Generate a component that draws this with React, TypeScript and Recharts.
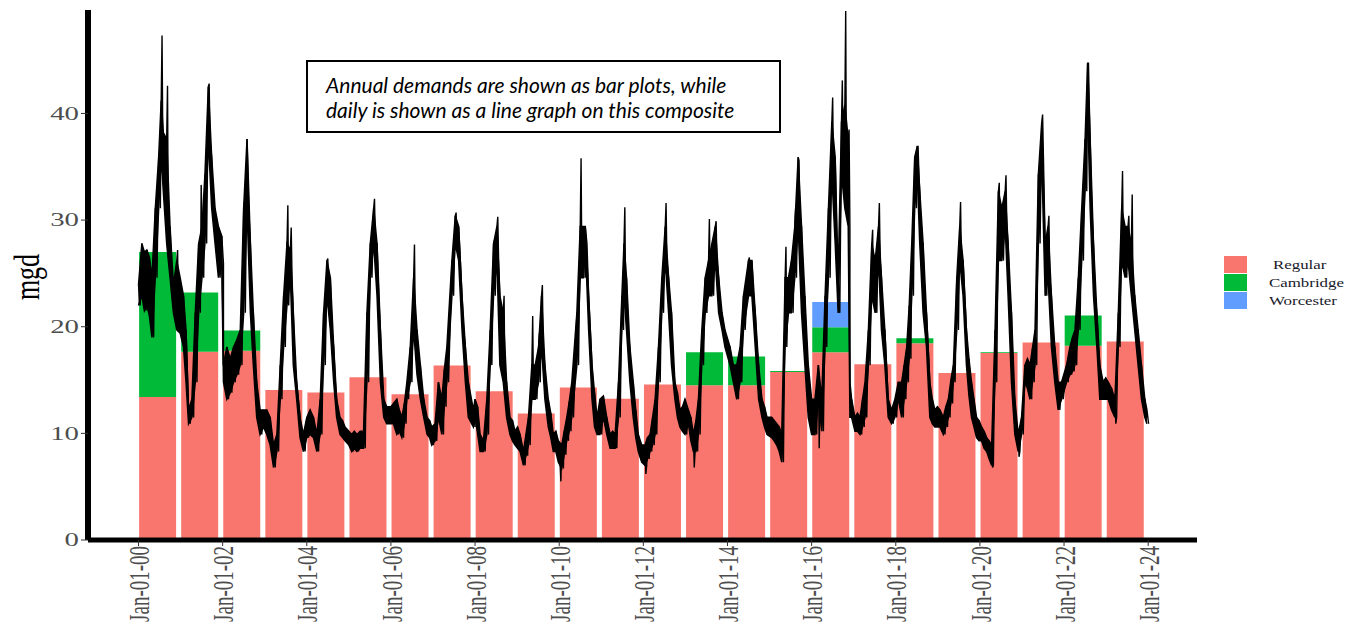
import React from 'react';
import { ComposedChart, Bar, Line, Area, XAxis, YAxis } from 'recharts';

// ---------- annual demand (mgd) ----------
const years = [2000, 2001, 2002, 2003, 2004, 2005, 2006, 2007, 2008, 2009, 2010, 2011, 2012, 2013, 2014, 2015, 2016, 2017, 2018, 2019, 2020, 2021, 2022, 2023];
const regular = [13.4, 17.65, 17.75, 14.06, 13.84, 15.25, 13.66, 16.37, 13.94, 11.87, 14.31, 13.25, 14.59, 14.5, 14.5, 15.75, 17.6, 16.47, 18.44, 15.66, 17.53, 18.53, 18.22, 18.62];
const cambridge = [13.6, 5.57, 1.9, 0, 0, 0, 0, 0, 0, 0, 0, 0, 0, 3.1, 2.7, 0.1, 2.34, 0, 0.47, 0, 0.08, 0, 2.84, 0];
const worcester = [0, 0, 0, 0, 0, 0, 0, 0, 0, 0, 0, 0, 0, 0, 0, 0, 2.37, 0, 0, 0, 0, 0, 0, 0];

const seriesNames = ['Regular', 'Cambridge', 'Worcester'];
const seriesColors = ['#F8766D', '#00BA38', '#619CFF'];

const xTicks = [2000, 2002, 2004, 2006, 2008, 2010, 2012, 2014, 2016, 2018, 2020, 2022, 2024];
const yTicks = [0, 10, 20, 30, 40];

// ---------- daily demand: [decimal year, band top, band bottom] ----------
const dailyReadings: [number, number, number][] = [
  [2000.00, 23.9, 22.0], [2000.08, 27.8, 22.9], [2000.14, 27.0, 21.5], [2000.20, 27.2, 22.0], [2000.26, 26.5, 21.0],
  [2000.32, 24.6, 19.0], [2000.40, 31.1, 24.6], [2000.48, 35.9, 31.1], [2000.54, 41.2, 35.9], [2000.59, 38.2, 32.7],
  [2000.67, 37.6, 27.8], [2000.75, 29.4, 24.6], [2000.83, 23.9, 21.3], [2000.91, 26.2, 19.7], [2000.99, 24.6, 19.4],
  [2001.07, 22.9, 18.1], [2001.13, 19.7, 14.8], [2001.19, 12.2, 10.9], [2001.27, 13.2, 11.5], [2001.35, 21.3, 14.8],
  [2001.43, 27.8, 21.3], [2001.51, 29.4, 24.6], [2001.58, 34.3, 27.8], [2001.66, 42.5, 37.6], [2001.74, 35.9, 31.1],
  [2001.82, 31.1, 27.8], [2001.90, 29.4, 24.6], [2001.98, 28.5, 25.9],
  [2002.02, 16.4, 14.8], [2002.10, 18.1, 13.2], [2002.18, 17.0, 13.8], [2002.26, 18.1, 14.8], [2002.34, 18.8, 15.5],
  [2002.42, 19.7, 16.4], [2002.50, 31.1, 21.3], [2002.58, 37.6, 31.1], [2002.66, 27.8, 21.3], [2002.73, 21.3, 16.4],
  [2002.81, 14.8, 11.5], [2002.89, 12.2, 9.9], [2002.97, 12.2, 10.6],
  [2003.05, 12.2, 9.9], [2003.13, 11.5, 8.9], [2003.21, 8.9, 6.8], [2003.29, 9.9, 8.3], [2003.37, 16.4, 13.2],
  [2003.45, 22.9, 18.1], [2003.53, 27.8, 22.0], [2003.61, 27.2, 24.6], [2003.68, 21.3, 16.4], [2003.76, 14.8, 13.2],
  [2003.84, 11.5, 9.6], [2003.92, 9.9, 8.3],
  [2004.00, 11.5, 9.6], [2004.08, 12.2, 9.9], [2004.16, 11.5, 9.6], [2004.24, 9.9, 8.3], [2004.32, 13.2, 9.9],
  [2004.40, 21.3, 16.4], [2004.48, 26.2, 22.9], [2004.56, 24.6, 19.7], [2004.64, 18.1, 14.8], [2004.71, 13.2, 11.5],
  [2004.79, 11.5, 9.9], [2004.85, 11.2, 9.6], [2004.91, 10.6, 9.3],
  [2005.00, 10.2, 8.9], [2005.07, 9.9, 8.3], [2005.13, 10.2, 8.6], [2005.19, 9.9, 8.3], [2005.27, 10.2, 8.6],
  [2005.35, 10.2, 8.6], [2005.43, 21.3, 14.8], [2005.51, 27.8, 24.6], [2005.59, 31.1, 27.8], [2005.67, 27.8, 22.9],
  [2005.75, 19.7, 14.8], [2005.83, 13.2, 11.5], [2005.90, 12.5, 10.9],
  [2006.00, 12.5, 10.9], [2006.06, 12.8, 10.9], [2006.14, 13.2, 9.9], [2006.20, 12.2, 10.2], [2006.26, 11.5, 9.6],
  [2006.32, 12.8, 10.9], [2006.38, 14.8, 13.2], [2006.46, 18.1, 14.8], [2006.54, 24.6, 19.7], [2006.62, 19.7, 15.5],
  [2006.70, 16.4, 13.2], [2006.78, 13.2, 11.5], [2006.86, 11.5, 9.9], [2006.92, 11.2, 9.6], [2006.97, 10.6, 8.9],
  [2007.05, 10.9, 9.3], [2007.13, 14.8, 11.5], [2007.21, 13.2, 9.9], [2007.27, 16.0, 12.5], [2007.33, 18.1, 14.8],
  [2007.45, 26.2, 22.9], [2007.53, 30.4, 27.8], [2007.61, 29.4, 26.2], [2007.69, 22.9, 19.7], [2007.77, 18.1, 14.8],
  [2007.84, 14.8, 11.5], [2007.96, 12.2, 10.6],
  [2008.00, 13.2, 11.5], [2008.06, 12.5, 10.0], [2008.12, 9.9, 8.3], [2008.20, 9.3, 8.3], [2008.28, 13.2, 9.9],
  [2008.36, 19.7, 16.4], [2008.44, 27.8, 22.9], [2008.52, 29.4, 26.2], [2008.59, 22.9, 16.4], [2008.67, 21.3, 14.8],
  [2008.75, 14.8, 11.5], [2008.83, 11.5, 9.9], [2008.89, 11.2, 9.3], [2008.95, 10.2, 8.9],
  [2009.01, 10.6, 8.6], [2009.07, 9.9, 8.3], [2009.15, 8.3, 7.0], [2009.21, 9.9, 7.9], [2009.27, 11.5, 8.9],
  [2009.35, 16.4, 13.2], [2009.43, 16.4, 13.2], [2009.51, 18.1, 14.8], [2009.58, 22.9, 18.1], [2009.66, 16.4, 13.2],
  [2009.74, 13.2, 10.6], [2009.80, 11.9, 9.6], [2009.86, 9.9, 8.3], [2009.92, 10.2, 8.3], [2009.98, 9.3, 7.3],
  [2010.06, 8.9, 6.7], [2010.12, 10.2, 8.0], [2010.18, 11.5, 9.3], [2010.24, 13.0, 10.2], [2010.30, 14.8, 11.5],
  [2010.42, 21.3, 16.4], [2010.50, 29.4, 24.6], [2010.58, 29.4, 24.6], [2010.62, 29.4, 27.8], [2010.70, 22.9, 19.7],
  [2010.78, 16.4, 13.2], [2010.84, 13.8, 10.6], [2010.90, 11.5, 9.9], [2010.97, 13.2, 9.9],
  [2011.05, 13.5, 11.5], [2011.13, 11.5, 9.9], [2011.21, 9.9, 8.6], [2011.27, 10.2, 8.6], [2011.33, 9.9, 8.6],
  [2011.41, 14.8, 11.5], [2011.49, 22.9, 19.7], [2011.54, 27.8, 22.9], [2011.60, 24.6, 19.7], [2011.68, 18.1, 14.8],
  [2011.76, 14.8, 11.5], [2011.82, 12.2, 9.6], [2011.88, 9.9, 8.3], [2011.96, 8.9, 7.3],
  [2012.04, 8.9, 7.0], [2012.10, 9.6, 7.6], [2012.16, 9.9, 8.3], [2012.22, 11.5, 8.9], [2012.28, 13.2, 9.9],
  [2012.36, 18.1, 14.8], [2012.44, 24.6, 21.3], [2012.52, 29.4, 26.2], [2012.60, 24.6, 21.3], [2012.67, 21.3, 16.4],
  [2012.75, 14.8, 13.2], [2012.81, 13.8, 11.5], [2012.87, 12.2, 10.6], [2012.93, 12.5, 10.2], [2012.99, 13.2, 9.9],
  [2013.07, 12.2, 10.9], [2013.13, 11.5, 9.3], [2013.19, 9.9, 8.3], [2013.25, 11.2, 8.3], [2013.31, 13.2, 9.9],
  [2013.39, 19.7, 16.4], [2013.47, 24.6, 21.3], [2013.55, 26.2, 22.9], [2013.63, 27.8, 22.9], [2013.71, 29.4, 26.2],
  [2013.79, 24.6, 21.3], [2013.87, 21.3, 19.7], [2013.94, 19.7, 18.1],
  [2014.06, 18.1, 16.4], [2014.14, 16.4, 14.8], [2014.22, 16.4, 13.2], [2014.30, 18.1, 14.8], [2014.38, 22.9, 19.7],
  [2014.50, 26.2, 22.9], [2014.58, 26.2, 22.9], [2014.66, 21.3, 18.1], [2014.74, 16.4, 13.2], [2014.82, 13.2, 11.5],
  [2014.88, 12.5, 10.6], [2014.94, 11.5, 9.9],
  [2015.05, 11.5, 9.6], [2015.11, 11.2, 9.3], [2015.17, 10.9, 8.9], [2015.23, 10.6, 8.3], [2015.29, 9.9, 7.3],
  [2015.37, 24.6, 18.1], [2015.45, 24.6, 21.3], [2015.52, 26.2, 21.3], [2015.60, 29.4, 24.6], [2015.68, 35.9, 29.4],
  [2015.76, 29.4, 21.3], [2015.84, 22.9, 16.4], [2015.92, 16.4, 11.5],
  [2016.00, 13.2, 9.9], [2016.08, 13.2, 9.9], [2016.16, 16.4, 13.2], [2016.24, 13.2, 10.2], [2016.32, 22.9, 18.1],
  [2016.40, 31.1, 24.6], [2016.48, 39.2, 34.3], [2016.56, 35.9, 27.8], [2016.63, 24.6, 21.3], [2016.71, 39.2, 34.3],
  [2016.79, 40.8, 31.1], [2016.87, 37.6, 29.4], [2016.91, 14.8, 11.5], [2016.95, 13.2, 11.5],
  [2017.03, 11.5, 10.2], [2017.09, 11.9, 10.2], [2017.15, 11.5, 9.9], [2017.21, 13.2, 10.6], [2017.27, 14.8, 11.5],
  [2017.35, 19.7, 16.4], [2017.43, 27.8, 22.9], [2017.51, 26.2, 21.3], [2017.59, 29.4, 26.2], [2017.66, 24.6, 19.7],
  [2017.74, 19.7, 16.4], [2017.82, 13.2, 11.5], [2017.90, 12.2, 10.9], [2017.98, 13.2, 11.5],
  [2018.06, 14.8, 13.2], [2018.14, 14.8, 11.5], [2018.20, 16.4, 13.2], [2018.26, 18.1, 14.8], [2018.32, 22.0, 17.0],
  [2018.38, 27.8, 22.9], [2018.45, 35.9, 31.1], [2018.51, 36.9, 34.3], [2018.57, 32.7, 27.8], [2018.65, 27.8, 21.3],
  [2018.73, 21.3, 18.1], [2018.81, 14.8, 11.5], [2018.87, 13.2, 10.9], [2018.93, 12.2, 10.6], [2018.99, 12.5, 10.6],
  [2019.05, 12.2, 10.6], [2019.13, 11.5, 9.9], [2019.19, 12.5, 10.6], [2019.25, 13.2, 11.5], [2019.31, 15.0, 12.8],
  [2019.37, 16.4, 14.8], [2019.45, 24.6, 19.7], [2019.52, 29.4, 26.2], [2019.60, 26.2, 22.9], [2019.68, 19.7, 16.4],
  [2019.74, 17.0, 13.5], [2019.80, 14.8, 11.5], [2019.86, 13.2, 10.6], [2019.92, 11.5, 9.6], [2019.98, 11.2, 9.3],
  [2020.04, 10.6, 9.3], [2020.10, 10.2, 8.6], [2020.16, 9.6, 8.3], [2020.22, 9.3, 7.6], [2020.28, 8.9, 7.0],
  [2020.36, 19.7, 14.8], [2020.44, 32.7, 26.2], [2020.52, 31.1, 26.2], [2020.60, 32.7, 29.4], [2020.67, 27.8, 22.9],
  [2020.75, 21.3, 14.8], [2020.83, 13.2, 9.9], [2020.91, 9.9, 8.3], [2020.99, 11.5, 9.9],
  [2021.07, 16.4, 14.8], [2021.13, 17.0, 14.2], [2021.19, 16.4, 13.2], [2021.25, 18.0, 14.8], [2021.31, 19.7, 16.4],
  [2021.39, 34.3, 27.8], [2021.47, 39.2, 35.9], [2021.55, 27.8, 22.9], [2021.62, 29.4, 24.6], [2021.70, 22.9, 18.1],
  [2021.78, 18.1, 14.8], [2021.86, 14.8, 12.2], [2021.94, 14.8, 13.2],
  [2022.06, 16.4, 14.8], [2022.14, 18.1, 15.5], [2022.20, 19.0, 15.8], [2022.26, 19.7, 16.4], [2022.34, 24.6, 19.7],
  [2022.42, 31.1, 26.2], [2022.50, 37.6, 32.7], [2022.56, 44.7, 40.8], [2022.62, 37.6, 31.1], [2022.70, 27.8, 22.9],
  [2022.78, 21.3, 18.1], [2022.85, 16.4, 13.2], [2022.93, 14.8, 13.2], [2022.99, 15.2, 13.2],
  [2023.05, 14.8, 13.2], [2023.13, 14.2, 12.2], [2023.21, 13.2, 11.5], [2023.29, 21.3, 18.1], [2023.37, 31.1, 26.2],
  [2023.45, 29.4, 24.6], [2023.52, 29.4, 26.2], [2023.60, 27.8, 22.9], [2023.68, 22.9, 19.7], [2023.76, 19.7, 16.4],
  [2023.84, 16.4, 13.2], [2023.92, 13.2, 11.5], [2023.97, 12.2, 10.9],
];

// isolated daily highs / lows: [decimal year, value]
const dailyExtremes: [number, number][] = [
  [2000.54, 47.3], [2000.67, 42.6], [2000.91, 27.2], [2001.47, 33.3], [2001.66, 42.8], [2002.50, 31.7],
  [2003.53, 31.4], [2003.61, 29.3], [2004.48, 26.4], [2005.59, 32.0], [2006.54, 27.7], [2007.53, 30.7],
  [2008.44, 28.1], [2008.52, 30.3], [2008.67, 22.9], [2009.35, 21.0], [2009.51, 19.4], [2009.58, 23.9],
  [2010.02, 5.5], [2010.50, 35.8], [2011.54, 31.2], [2012.04, 6.2], [2012.52, 31.6], [2013.19, 6.8],
  [2013.55, 30.1], [2013.71, 29.9], [2014.50, 26.5], [2015.37, 27.5], [2015.60, 31.1], [2015.68, 35.6],
  [2016.16, 8.6], [2016.48, 41.5], [2016.71, 43.1], [2016.79, 49.6], [2016.87, 38.5], [2017.43, 29.1],
  [2017.59, 31.6], [2018.51, 36.9], [2019.52, 31.7], [2020.28, 6.8], [2020.44, 33.5], [2020.60, 34.2],
  [2020.91, 7.8], [2021.47, 39.9], [2021.62, 30.4], [2022.56, 44.7], [2023.21, 10.9], [2023.37, 34.6],
  [2023.52, 30.4], [2023.60, 32.4],
];

// ---------- tables built for the library ----------
const barData = years.map((y, i) => ({
  x: y + 0.4435,
  regular: regular[i],
  cambridge: cambridge[i],
  worcester: worcester[i],
}));

const bandData = dailyReadings.map(([t, hi, lo]) => ({ x: t, band: [lo, hi] }));

const lineData = (() => {
  const pts: { x: number; daily: number }[] = [];
  dailyReadings.forEach(([t, hi, lo]) => {
    pts.push({ x: t, daily: hi });
    pts.push({ x: t + 0.04, daily: lo });
  });
  dailyExtremes.forEach(([t, v]) => pts.push({ x: t + 0.02, daily: v }));
  pts.sort((a, b) => a.x - b.x);
  return pts;
})();

const X_DOMAIN: [number, number] = [1998.8, 2025.16];
const SERIF = '"Liberation Serif", "Times New Roman", "DejaVu Serif", serif';

const XTick = (props: any) => {
  const { x, y, payload } = props;
  const yr = String(payload.value % 100).padStart(2, '0');
  return (
    <g transform={`translate(${x},${y})`}>
      <text
        transform="scale(1.6,1) rotate(-90)"
        textAnchor="end"
        dy="0.35em"
        fontSize={19}
        fontFamily={SERIF}
        fill="#4d4d4d"
      >
        {`Jan-01-${yr}`}
      </text>
    </g>
  );
};

const YTick = (props: any) => {
  const { x, y, payload } = props;
  return (
    <g transform={`translate(${x},${y}) scale(1.6,1)`}>
      <text textAnchor="end" dy="0.35em" fontSize={18} fontFamily={SERIF} fill="#4d4d4d">
        {payload.value}
      </text>
    </g>
  );
};

const MgdLabel = () => (
  <text
    transform="translate(39,277) scale(1.4,1) rotate(-90)"
    textAnchor="middle"
    fontSize={26}
    fontFamily={SERIF}
    fill="#000"
  >
    mgd
  </text>
);

export default function App() {
  return (
    <div style={{ position: 'absolute', left: 0, top: 0, width: 1361, height: 627, background: '#fff' }}>
      <ComposedChart
        width={1361}
        height={627}
        data={barData}
        margin={{ top: 10, right: 164, bottom: 0, left: 0 }}
      >
        <XAxis
          xAxisId="main"
          dataKey="x"
          type="number"
          domain={X_DOMAIN}
          allowDataOverflow
          ticks={xTicks}
          interval={0}
          height={87}
          tick={<XTick />}
          tickSize={6}
          tickMargin={0}
          tickLine={{ stroke: '#333', strokeWidth: 1 }}
          axisLine={{ stroke: '#000', strokeWidth: 5 }}
        />
        <XAxis
          xAxisId="daily"
          orientation="top"
          height={0}
          dataKey="x"
          type="number"
          domain={X_DOMAIN}
          allowDataOverflow
          hide
        />
        <YAxis
          type="number"
          domain={[0, 49.7]}
          allowDataOverflow
          ticks={yTicks}
          interval={0}
          width={88}
          tick={<YTick />}
          tickSize={7}
          tickMargin={2}
          tickLine={{ stroke: '#333', strokeWidth: 1 }}
          axisLine={{ stroke: '#000', strokeWidth: 6 }}
          label={<MgdLabel />}
        />
        <Bar xAxisId="main" dataKey="regular" stackId="a" fill={seriesColors[0]} barSize={37} isAnimationActive={false} />
        <Bar xAxisId="main" dataKey="cambridge" stackId="a" fill={seriesColors[1]} barSize={37} isAnimationActive={false} />
        <Bar xAxisId="main" dataKey="worcester" stackId="a" fill={seriesColors[2]} barSize={37} isAnimationActive={false} />
        <Area
          {...({ zIndex: 350 } as any)}
          xAxisId="daily"
          data={bandData}
          dataKey="band"
          type="linear"
          fill="#000"
          fillOpacity={1}
          stroke="#000"
          strokeWidth={1.5}
          dot={false}
          activeDot={false}
          isAnimationActive={false}
        />
        <Line
          xAxisId="daily"
          data={lineData}
          dataKey="daily"
          type="linear"
          stroke="#000"
          strokeWidth={1.4}
          dot={false}
          activeDot={false}
          isAnimationActive={false}
        />
      </ComposedChart>

      <div
        style={{
          position: 'absolute',
          left: 306,
          top: 60,
          width: 475,
          height: 73,
          boxSizing: 'border-box',
          border: '2px solid #000',
          background: '#fff',
          padding: '10px 0 0 18px',
          fontFamily: 'Lato, "Open Sans", sans-serif',
          fontStyle: 'italic',
          fontSize: 21,
          lineHeight: '25px',
          color: '#000',
          whiteSpace: 'nowrap',
        }}
      >
        <div>Annual demands are shown as bar plots, while</div>
        <div>daily is shown as a line graph on this composite</div>
      </div>

      <div style={{ position: 'absolute', left: 1224, top: 256 }}>
        {seriesNames.map((name, i) => (
          <div key={name} style={{ display: 'flex', alignItems: 'center', height: 17, marginBottom: 1 }}>
            <div style={{ width: 23, height: 17, background: seriesColors[i] }} />
            <div
              style={{
                marginLeft: i === 0 ? 26 : 22,
                fontFamily: SERIF,
                fontSize: 13.5,
                color: '#1a1a2a',
                transform: 'scaleX(1.25)',
                transformOrigin: 'left center',
                whiteSpace: 'nowrap',
              }}
            >
              {name}
            </div>
          </div>
        ))}
      </div>
    </div>
  );
}
